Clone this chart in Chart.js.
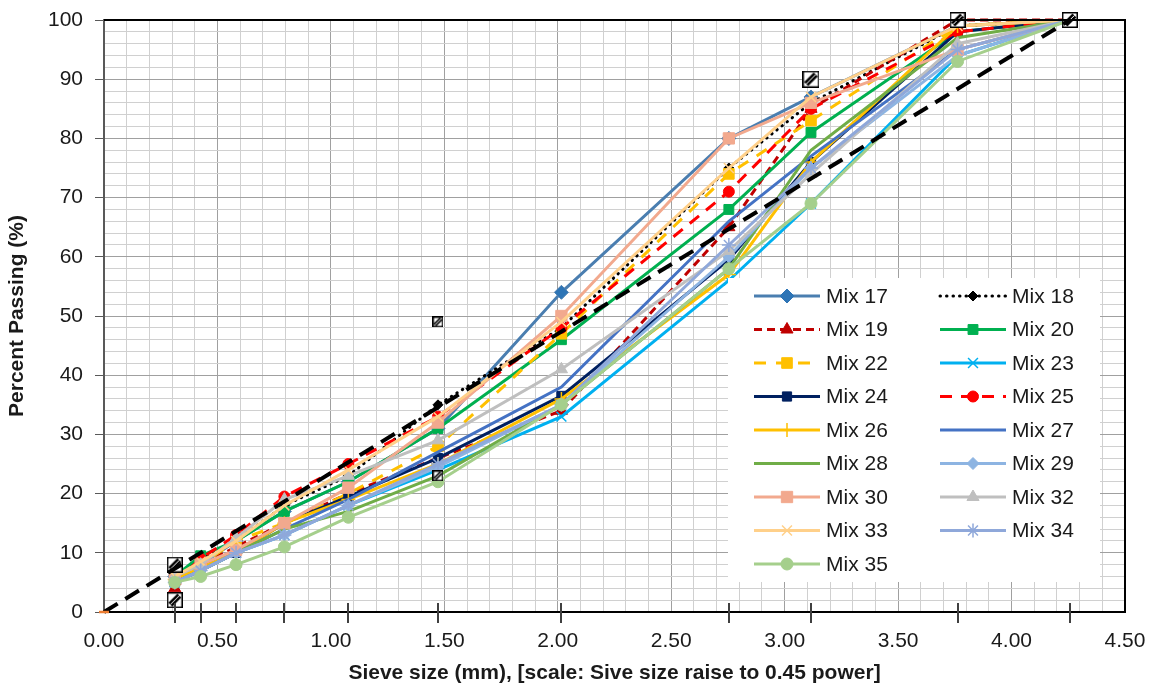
<!DOCTYPE html>
<html>
<head>
<meta charset="utf-8">
<script src="https://cdn.jsdelivr.net/npm/chart.js@4.4.1/dist/chart.umd.min.js"></script>
<style>
  html, body { margin: 0; padding: 0; background: #fff; }
  #wrap { width: 1156px; height: 688px; }
</style>
</head>
<body>
<div id="wrap"><canvas id="grading" width="1156" height="688"></canvas></div>
<script>
// sieve openings (mm) and where they sit on the 0.45-power axis
const sieveSizes = [0.075, 0.15, 0.3, 0.6, 1.18, 2.36, 4.75, 9.5, 12.5, 19, 25];
const sieveX = [0.312, 0.426, 0.582, 0.795, 1.077, 1.472, 2.016, 2.754, 3.116, 3.762, 4.257];

// percent passing, one array per mix (same order as sieveX)
const mixNames = ['Mix 17', 'Mix 18', 'Mix 19', 'Mix 20', 'Mix 22', 'Mix 23', 'Mix 24', 'Mix 25', 'Mix 26',
  'Mix 27', 'Mix 28', 'Mix 29', 'Mix 30', 'Mix 32', 'Mix 33', 'Mix 34', 'Mix 35'];
const mix17 = [6, 8, 12, 17, 22, 31, 54, 80, 87, 99, 100];
const mix18 = [6, 9, 12, 18, 23, 35, 48, 75, 86, 99, 100];
const mix19 = [4, 8, 11, 15, 20, 26, 34, 65, 85, 100, 100];
const mix20 = [6, 9.5, 12, 17, 22, 31, 46, 68, 81, 98, 100];
const mix22 = [6, 8, 12, 15, 20, 28, 47, 74, 83, 99, 100];
const mix23 = [5, 7, 10, 13, 18, 24, 33, 56, 69, 94, 100];
const mix24 = [5, 7.5, 10, 15, 19.5, 26, 36.5, 59.5, 76, 98, 100];
const mix25 = [5, 9, 13, 19.5, 25, 33, 48, 71, 85, 98, 100];
const mix26 = [5.5, 7.5, 10, 15, 19, 25, 36, 57, 76, 99, 100];
const mix27 = [5, 7, 10, 14, 19, 27, 38, 66, 77, 95, 100];
const mix28 = [5, 7, 10, 14, 17, 23, 35, 58, 78, 97, 100];
const mix29 = [5, 7, 10, 13, 18, 24.5, 35, 60, 75, 94, 100];
const mix30 = [6, 8, 10.5, 15, 21, 32, 50, 80, 86, 95, 100];
const mix32 = [6, 8, 12.5, 19, 23, 29, 41, 61, 74, 96, 100];
const mix33 = [6, 8.5, 12, 18, 24, 33, 49, 75, 87, 99, 100];
const mix34 = [5, 7, 10, 13, 18, 25, 35, 62, 75, 95, 100];
const mix35 = [5, 6, 8, 11, 16, 22, 35, 58, 69, 93, 100];
const mixValues = [mix17, mix18, mix19, mix20, mix22, mix23, mix24, mix25, mix26,
  mix27, mix28, mix29, mix30, mix32, mix33, mix34, mix35];

// control points and maximum density line
const controlX = [0.312, 0.312, 1.472, 1.472, 3.116, 3.762, 4.257];
const controlY = [2, 8, 23, 49, 90, 100, 100];
const maxDensityX = [0, 4.257];
const maxDensityY = [0, 100];

const xTickLabels = ['0.00', '0.50', '1.00', '1.50', '2.00', '2.50', '3.00', '3.50', '4.00', '4.50'];

// styles
const mixStyles = [
  { color: '#4A7EB0', fill: '#2E75B6', point: 'rectRot', r: 7 },
  { color: '#000000', fill: '#000000', point: 'rectRot', r: 5, dash: [0.5, 6], cap: 'round' },
  { color: '#C00000', fill: '#C00000', point: 'triangle', r: 7, dash: [8, 5] },
  { color: '#00B050', fill: '#00B050', point: 'rect', r: 7 },
  { color: '#FFC000', fill: '#FFC000', point: 'rect', r: 7.5, dash: [12, 10] },
  { color: '#00B0F0', fill: '#00B0F0', point: 'crossRot', r: 7 },
  { color: '#002060', fill: '#002060', point: 'rect', r: 6.5 },
  { color: '#FF0000', fill: '#FF0000', point: 'circle', r: 5.5, dash: [12, 9] },
  { color: '#FFC000', fill: '#FFC000', point: 'cross', r: 7 },
  { color: '#4472C4', fill: '#4472C4', point: false, r: 0 },
  { color: '#70AD47', fill: '#70AD47', point: false, r: 0 },
  { color: '#8DB4E2', fill: '#8DB4E2', point: 'rectRot', r: 6 },
  { color: '#F2A98E', fill: '#F2A98E', point: 'rect', r: 8 },
  { color: '#BFBFBF', fill: '#BFBFBF', point: 'triangle', r: 7 },
  { color: '#FFD08A', fill: '#FFD08A', point: 'crossRot', r: 7 },
  { color: '#8FA8DA', fill: '#8FA8DA', point: 'star', r: 7 },
  { color: '#A5CF8C', fill: '#A5CF8C', point: 'circle', r: 6 }
];
const controlBoxSizes = [16, 16, 11, 11, 17, 16, 16];
const FONT = '"Liberation Sans", Arial, sans-serif';
const TEXT = '#1a1a1a';

function hatchBox(size) {
  const c = document.createElement('canvas');
  c.width = size; c.height = size;
  const g = c.getContext('2d');
  g.fillStyle = '#fff';
  g.fillRect(0, 0, size, size);
  g.strokeStyle = '#000';
  g.lineWidth = 1.5;
  g.strokeRect(0.75, 0.75, size - 1.5, size - 1.5);
  g.beginPath();
  g.moveTo(size * 0.22, size * 0.78);
  g.lineTo(size * 0.78, size * 0.22);
  g.lineWidth = size * 0.34;
  g.stroke();
  g.strokeStyle = '#fff';
  g.lineWidth = 1;
  g.stroke();
  return c;
}

const isThin = p => p === 'cross' || p === 'crossRot' || p === 'star';

const datasets = mixNames.map((name, i) => {
  const s = mixStyles[i];
  return {
    label: name,
    data: sieveX.map((x, j) => ({ x: x, y: mixValues[i][j] })),
    borderColor: s.color,
    backgroundColor: s.fill,
    borderWidth: 3,
    borderDash: s.dash || [],
    borderCapStyle: s.cap || 'butt',
    pointStyle: s.point || 'circle',
    pointRadius: s.r,
    pointBackgroundColor: s.fill,
    pointBorderColor: i === 0 ? s.color : s.fill,
    pointBorderWidth: isThin(s.point) ? 1.5 : 1,
    clip: false,
    order: 100 - i
  };
});

datasets.push({
  label: 'Control points',
  data: controlX.map((x, j) => ({ x: x, y: controlY[j] })),
  showLine: false,
  pointStyle: controlBoxSizes.map(hatchBox),
  pointRadius: 8,
  clip: false,
  order: 60
});

datasets.push({
  label: 'Maximum density line',
  data: maxDensityX.map((x, j) => ({ x: x, y: maxDensityY[j] })),
  borderColor: '#000',
  borderWidth: 4,
  borderDash: [16, 9],
  pointStyle: 'line',
  pointRadius: [5, 0],
  pointBorderColor: '#ED7D31',
  pointBorderWidth: 2.5,
  clip: false,
  order: 50
});

const legendBox = { left: 728, top: 278, right: 1100, bottom: 582 };

const extras = {
  id: 'extras',
  afterDatasetsDraw(chart) {
    const ctx = chart.ctx;
    const area = chart.chartArea;
    const xs = chart.scales.x;
    ctx.save();
    // frame on top and right
    ctx.strokeStyle = '#000';
    ctx.lineWidth = 2;
    ctx.beginPath();
    ctx.moveTo(area.left, area.top);
    ctx.lineTo(area.right, area.top);
    ctx.lineTo(area.right, area.bottom);
    ctx.stroke();
    // tick marks at the sieve sizes
    ctx.strokeStyle = '#404040';
    ctx.lineWidth = 2;
    sieveX.forEach(v => {
      const px = Math.round(xs.getPixelForValue(v));
      ctx.beginPath();
      ctx.moveTo(px, area.bottom - 9);
      ctx.lineTo(px, area.bottom + 11);
      ctx.stroke();
    });
    // legend
    ctx.fillStyle = '#fff';
    ctx.fillRect(legendBox.left, legendBox.top, legendBox.right - legendBox.left, legendBox.bottom - legendBox.top);
    ctx.font = '21px ' + FONT;
    ctx.textBaseline = 'middle';
    ctx.textAlign = 'left';
    mixNames.forEach((name, i) => {
      const s = mixStyles[i];
      const col = i % 2, row = Math.floor(i / 2);
      const x0 = col === 0 ? 754 : 940;
      const y = 296 + row * 33.5;
      ctx.save();
      ctx.strokeStyle = s.color;
      ctx.lineWidth = 3;
      ctx.setLineDash(s.dash || []);
      ctx.lineCap = s.cap || 'butt';
      ctx.beginPath();
      ctx.moveTo(x0, y);
      ctx.lineTo(x0 + 66, y);
      ctx.stroke();
      ctx.restore();
      if (s.point) {
        ctx.save();
        ctx.fillStyle = s.fill;
        ctx.strokeStyle = s.fill;
        ctx.setLineDash([]);
        const bw = isThin(s.point) ? 1.5 : 1;
        ctx.lineWidth = bw;
        Chart.helpers.drawPoint(ctx, { pointStyle: s.point, radius: s.r, borderWidth: bw, rotation: 0 }, x0 + 33, y);
        ctx.restore();
      }
      ctx.fillStyle = TEXT;
      ctx.fillText(name, x0 + 72, y + 1);
    });
    ctx.restore();
  }
};

new Chart(document.getElementById('grading'), {
  type: 'line',
  data: { datasets: datasets },
  plugins: [extras],
  options: {
    responsive: false,
    devicePixelRatio: 1,
    animation: false,
    layout: { padding: { left: 0, right: 31, top: 20, bottom: 0 } },
    elements: { line: { tension: 0 } },
    plugins: { legend: { display: false }, tooltip: { enabled: false } },
    scales: {
      x: {
        type: 'linear',
        min: 0,
        max: 4.5,
        afterFit(scale) {
          scale.height = 76;
          scale.paddingLeft = 0;
          scale.paddingRight = 0;
        },
        border: { color: '#000', width: 2 },
        grid: {
          drawTicks: false,
          color: c => {
            const v = c.tick.value;
            return Math.abs(v * 2 - Math.round(v * 2)) < 1e-6 ? '#a0a0a0' : '#d0d0d0';
          }
        },
        ticks: {
          stepSize: 0.1,
          autoSkip: false,
          maxRotation: 0,
          padding: 17,
          color: TEXT,
          font: { family: FONT, size: 21 },
          callback: v => {
            const k = Math.round(v / 0.5);
            return Math.abs(v - k * 0.5) < 1e-6 ? xTickLabels[k] : '';
          }
        },
        title: {
          display: true,
          text: 'Sieve size (mm), [scale: Sive size raise to 0.45 power]',
          color: TEXT,
          font: { family: FONT, size: 21, weight: 'bold' },
          padding: { top: 0, bottom: 2 }
        }
      },
      y: {
        min: 0,
        max: 100,
        afterFit(scale) {
          scale.width = 104;
          scale.paddingTop = 0;
          scale.paddingBottom = 0;
        },
        border: { color: '#595959', width: 2 },
        grid: {
          tickLength: 9,
          color: c => (c.tick.value % 10 === 0 ? '#a0a0a0' : '#d0d0d0'),
          tickColor: c => (c.tick.value % 10 === 0 ? '#595959' : 'rgba(0,0,0,0)')
        },
        ticks: {
          stepSize: 2,
          autoSkip: false,
          padding: 12,
          color: TEXT,
          font: { family: FONT, size: 21 },
          callback: v => (v % 10 === 0 ? String(v) : '')
        },
        title: {
          display: true,
          text: 'Percent Passing (%)',
          color: TEXT,
          font: { family: FONT, size: 21, weight: 'bold' },
          padding: { top: 5, bottom: 4 }
        }
      }
    }
  }
});
</script>
</body>
</html>
